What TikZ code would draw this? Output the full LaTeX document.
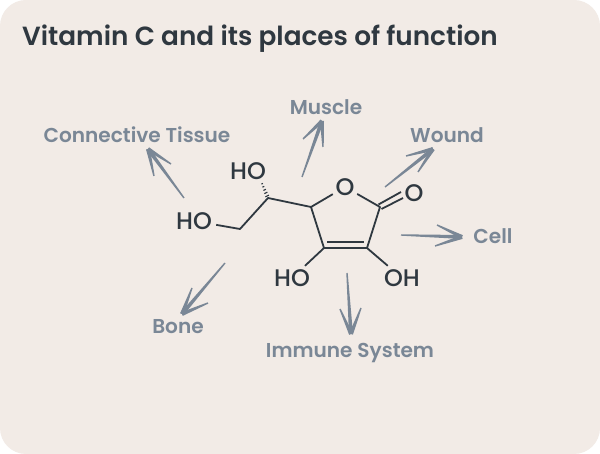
\documentclass[tikz,border=0pt]{standalone}
\usepackage{fontspec}
\setmainfont{Poppins Medium}
\newfontfamily\labelfont{Poppins SemiBold}
\newfontfamily\titlefont{Poppins SemiBold}
\usetikzlibrary{calc}
\definecolor{bgpanel}{HTML}{F2EBE6}
\definecolor{inkdark}{HTML}{2F3840}
\definecolor{slate}{HTML}{7A8796}
\tikzset{
  atom/.style={text=inkdark,font=\fontsize{24}{24}\selectfont,inner sep=0pt,minimum height=24pt,minimum width=24pt},
  atomwide/.style={atom,minimum width=44pt},
  bond/.style={draw=inkdark,line width=1.8pt},
  place/.style={text=slate,font=\labelfont\fontsize{20.1}{20.1}\selectfont,inner sep=0pt,anchor=base},
  headline/.style={text=inkdark,font=\titlefont\fontsize{26.3}{26.3}\selectfont,inner sep=0pt,anchor=base west}
}
% tapered pen stroke: thin at #1, thick at #2
\newcommand{\penstroke}[2]{%
  \fill[slate] ($(#1)!0.7pt!90:(#2)$) -- ($(#2)!2pt!-90:(#1)$) -- ($(#2)!2pt!90:(#1)$) -- ($(#1)!0.7pt!-90:(#2)$) -- cycle;}
\newcommand{\penarrow}[4]{%
  \penstroke{#1}{#2}\penstroke{#3}{#2}\penstroke{#4}{#2}}
\begin{document}
\begin{tikzpicture}[x=1pt,y=-1pt]
\useasboundingbox (0,0) rectangle (600,454);
\fill[white] (0,0) rectangle (600,454);
\fill[bgpanel,rounded corners=26pt] (0,0) rectangle (600,454);
\node[headline] (title) at (22,45.5) {Vitamin C and its places of function};
% atoms
\node[atomwide] (hoTop) at (248,171) {HO};
\node[atomwide] (hoLeft) at (194,221) {HO};
\node[atom] (oRing) at (345,187) {O};
\node[atom] (oKeto) at (414,193) {O};
\node[atomwide] (hoBot) at (292,278) {HO};
\node[atomwide] (ohBot) at (402,278) {OH};
\coordinate (cChain) at (240,229);
\coordinate (cStereo) at (268,198);
\coordinate (cRing) at (311,207);
\coordinate (cKeto) at (380,207);
\coordinate (cDblL) at (324,248);
\coordinate (cDblR) at (367,248);
% bonds
\draw[bond,line join=round] (hoLeft) -- (cChain) -- (cStereo) -- (cRing) -- (oRing);
\draw[bond,line join=round] (oRing) -- (cKeto) -- (cDblR) -- (cDblL) -- (cRing);
\draw[bond] (cDblL) -- (hoBot);
\draw[bond] (cDblR) -- (ohBot);
\draw[bond] ($(cDblL)+(3,-6)$) -- ($(cDblR)+(-3,-6)$);
\draw[bond] ($(cKeto)+(-1.5,-2.5)$) -- ($(oKeto)+(-13,-1)$);
\draw[bond] ($(cKeto)+(1.5,2)$) -- ($(oKeto)+(-11,5)$);
\foreach \t/\w in {0.12/1.8,0.3/1.5,0.48/1.2,0.66/0.9,0.84/0.7}{
  \draw[inkdark,line width=1.1pt] ($(cStereo)!\t!(261,181)+(-\w,0.5*\w)$) -- ($(cStereo)!\t!(261,181)+(\w,-0.5*\w)$);
}
% places
\node[place] (connective) at (137,143) {Connective Tissue};
\node[place] (muscle) at (326,114.5) {Muscle};
\node[place] (wound) at (447,143) {Wound};
\node[place] (cell) at (493,243.5) {Cell};
\node[place] (bone) at (178,333.5) {Bone};
\node[place] (immune) at (350,358) {Immune System};
% arrows
\coordinate (aS1) at (184,198); \coordinate (aT1) at (148,149);
\coordinate (aS2) at (302,177); \coordinate (aT2) at (322,121);
\coordinate (aS3) at (385,187); \coordinate (aT3) at (433,149);
\coordinate (aS4) at (401,235); \coordinate (aT4) at (462,237);
\coordinate (aS5) at (225,263); \coordinate (aT5) at (182,314);
\coordinate (aS6) at (347,273); \coordinate (aT6) at (351,334);
\penarrow{aS1}{aT1}{154,176}{171,164}
\penarrow{aS2}{aT2}{303,139}{323,147}
\penarrow{aS3}{aT3}{406,156}{418,172}
\penarrow{aS4}{aT4}{437,225}{435,246}
\penarrow{aS5}{aT5}{192,288}{208,303}
\penarrow{aS6}{aT6}{340,309}{361,308}
\end{tikzpicture}
\end{document}
